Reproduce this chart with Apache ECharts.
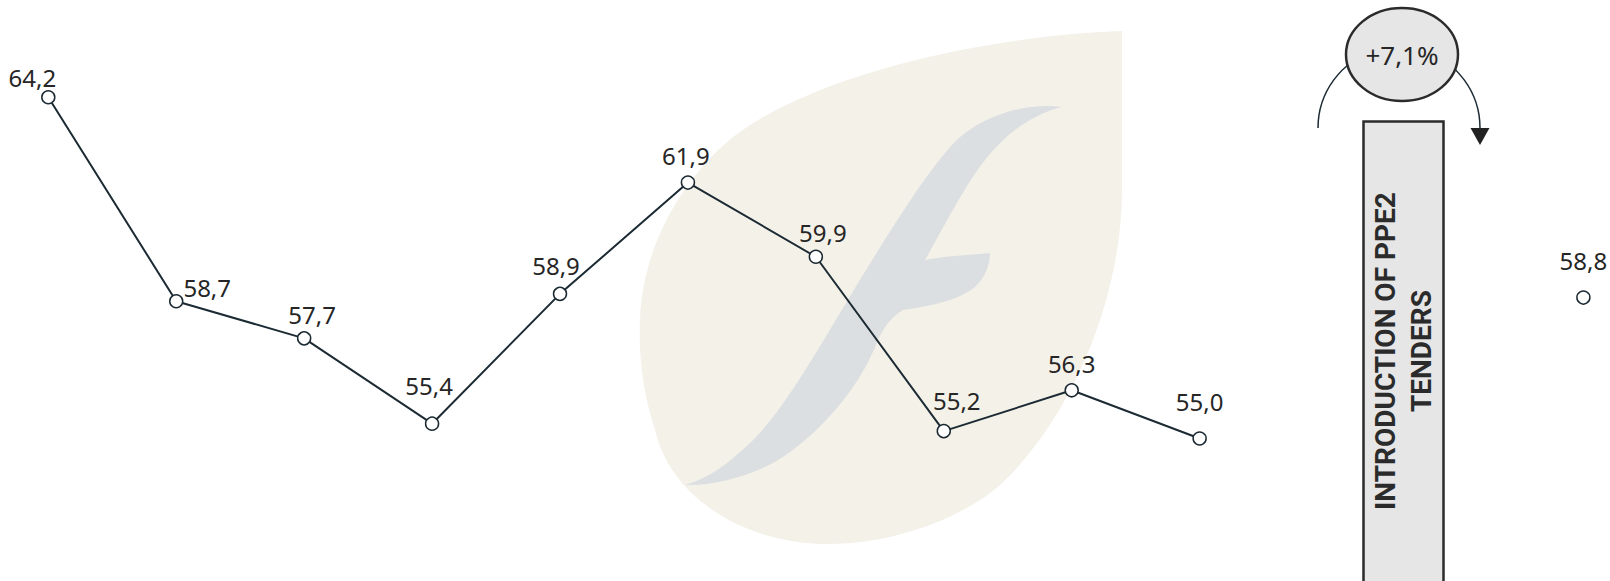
<!DOCTYPE html>
<html>
<head>
<meta charset="utf-8">
<script src="https://cdn.jsdelivr.net/npm/echarts@6/dist/echarts.min.js"></script>
<style>
html,body{margin:0;padding:0;background:#ffffff;}
#chart{width:1610px;height:581px;}
</style>
</head>
<body>
<div id="chart"></div>
<script>
// ---- data ----
const categories = ['1','2','3','4','5','6','7','8','9','10','11','12','13'];
const values = [64.2, 58.7, 57.7, 55.4, 58.9, 61.9, 59.9, 55.2, 56.3, 55.0, null, null, 58.8];
const changeText = '+7,1%';
const eventText = 'INTRODUCTION OF PPE2\nTENDERS';

// label nudges (style only)
const labelShift = [[-16,4],[31,10],[8,0],[-3,-14],[-4,-4],[-2,-3],[7,0],[13,-6],[0,-3],[0,-13],[0,0],[0,0],[0,-13]];

const LINE = '#1b2a33';
const TEXT = '#262626';

const leafPath = 'M 1122 31 L 1122 190 C 1122 300, 1070 420, 1000 485 C 960 520, 890 544, 830 544 ' +
  'C 740 544, 670 495, 655 430 C 645 400, 638 360, 640 320 C 642 250, 680 180, 733 137 C 820 70, 1000 35, 1122 31 Z';
const fPath = 'M 1062 107 C 1030 103, 990 112, 960 137 C 935 160, 900 215, 866 270 ' +
  'C 820 345, 785 410, 750 443 C 730 462, 710 478, 685 485 C 710 486, 745 478, 773 463 ' +
  'C 800 448, 830 420, 853 387 C 865 370, 872 355, 878 340 C 884 328, 890 318, 903 310 ' +
  'C 930 306, 960 300, 975 287 C 985 278, 990 265, 990 253 C 970 255, 945 256, 925 260 ' +
  'C 945 225, 965 185, 985 160 C 1005 135, 1030 115, 1062 107 Z';

echarts.graphic.registerShape('leafShape', echarts.graphic.extendPath(leafPath, {}));
echarts.graphic.registerShape('fShape', echarts.graphic.extendPath(fPath, {}));

const chart = echarts.init(document.getElementById('chart'), null, {renderer:'svg'});

const seriesData = values.map((v, i) => ({
  value: v,
  label: { offset: labelShift[i] }
}));

const option = {
  backgroundColor: '#ffffff',
  animation: false,
  grid: { left: 48.3, right: 26.6, top: 30.5, bottom: 31.2 },
  xAxis: {
    type: 'category', data: categories, boundaryGap: false, show: false
  },
  yAxis: {
    type: 'value', min: 52, max: 66, show: false
  },
  graphic: [
    { type: 'leafShape', z: -10, silent: true, style: { fill: '#f4f1e9' } },
    { type: 'fShape', z: -9, silent: true, style: { fill: '#dcdfe1' } },
    // event box
    { type: 'rect', z: 5, shape: { x: 1363.5, y: 121.5, width: 80, height: 480 },
      style: { fill: '#e6e6e6', stroke: '#2b2b2b', lineWidth: 2.5 } },
    { type: 'text', z: 6, x: 1403, y: 351, rotation: Math.PI / 2,
      style: { text: eventText, x: 0, y: 0, align: 'center', verticalAlign: 'middle',
        fontFamily: 'Roboto', fontWeight: 'bold', fontSize: 28, lineHeight: 36, fill: '#2b2b2b' } },
    // arcs
    { type: 'arc', z: 4, shape: { cx: 1399, cy: 128, r: 81, startAngle: Math.PI, endAngle: Math.PI * 1.5 - 0.3 },
      style: { stroke: LINE, lineWidth: 1.5, fill: null } },
    { type: 'arc', z: 4, shape: { cx: 1399, cy: 128, r: 81, startAngle: Math.PI * 1.5 + 0.3, endAngle: Math.PI * 2 },
      style: { stroke: LINE, lineWidth: 1.5, fill: null } },
    { type: 'polygon', z: 4, shape: { points: [[1470.5, 128], [1489.5, 128], [1480, 145]] },
      style: { fill: '#222222' } },
    // ellipse
    { type: 'ellipse', z: 5, shape: { cx: 1402, cy: 54.5, rx: 56, ry: 46.5 },
      style: { fill: '#e6e6e6', stroke: '#2b2b2b', lineWidth: 2.5 } },
    { type: 'text', z: 6, x: 1402, y: 55,
      style: { text: changeText, x: 0, y: 0, align: 'center', verticalAlign: 'middle',
        fontFamily: 'Noto Sans', fontSize: 26, fill: TEXT } }
  ],
  series: [{
    type: 'line',
    z: 10,
    data: seriesData,
    connectNulls: false,
    symbol: 'circle',
    symbolSize: 13,
    showAllSymbol: true,
    lineStyle: { color: LINE, width: 2 },
    itemStyle: { color: '#ffffff', borderColor: LINE, borderWidth: 1.5 },
    label: {
      show: true, position: 'top', distance: 5,
      fontFamily: 'Noto Sans', fontSize: 24, color: TEXT,
      formatter: p => p.value == null ? '' : p.value.toFixed(1).replace('.', ',')
    },
    emphasis: { disabled: true }
  }]
};
chart.setOption(option);
</script>
</body>
</html>
